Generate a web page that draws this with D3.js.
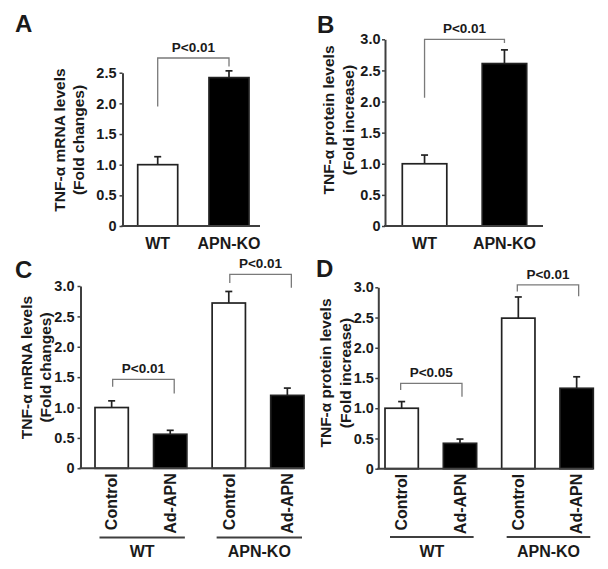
<!DOCTYPE html>
<html>
<head>
<meta charset="utf-8">
<script src="https://cdn.jsdelivr.net/npm/d3@7"></script>
<style>
  html, body { margin: 0; padding: 0; background: #fff; }
  svg { display: block; }
</style>
</head>
<body>
<svg id="chart" width="608" height="569"></svg>
<script>
// ---------------- DATA ----------------
// Panel A: TNF-α mRNA (fold changes)
const aCategories = ["WT", "APN-KO"];
const aValues = [1.0, 2.42];
const aErrors = [0.13, 0.11];
const aTicks = [0, 0.5, 1.0, 1.5, 2.0, 2.5];
const aYLabel = ["TNF-α mRNA levels", "(Fold changes)"];
const aBrackets = [{ from: 0, to: 1, label: "P<0.01", top: 2.74, leftEnd: 1.95, rightEnd: 2.6 }];

// Panel B: TNF-α protein (fold increase)
const bCategories = ["WT", "APN-KO"];
const bValues = [1.0, 2.61];
const bErrors = [0.14, 0.22];
const bTicks = [0, 0.5, 1.0, 1.5, 2.0, 2.5, 3.0];
const bYLabel = ["TNF-α protein levels", "(Fold increase)"];
const bBrackets = [{ from: 0, to: 1, label: "P<0.01", top: 3.0, leftEnd: 2.06, rightEnd: 2.94 }];

// Panel C: TNF-α mRNA, Control vs Ad-APN
const cCategories = ["Control", "Ad-APN", "Control", "Ad-APN"];
const cGroups = ["WT", "APN-KO"];
const cValues = [1.0, 0.56, 2.72, 1.2];
const cErrors = [0.11, 0.065, 0.19, 0.12];
const cTicks = [0, 0.5, 1.0, 1.5, 2.0, 2.5, 3.0];
const cYLabel = ["TNF-α mRNA levels", "(Fold changes)"];
const cBrackets = [
  { from: 0, to: 1, label: "P<0.01", top: 1.465, leftEnd: 1.34, rightEnd: 1.23 },
  { from: 2, to: 3, label: "P<0.01", top: 3.19, leftEnd: 3.05, rightEnd: 2.97 }
];

// Panel D: TNF-α protein, Control vs Ad-APN
const dCategories = ["Control", "Ad-APN", "Control", "Ad-APN"];
const dGroups = ["WT", "APN-KO"];
const dValues = [1.0, 0.42, 2.49, 1.33];
const dErrors = [0.11, 0.07, 0.35, 0.19];
const dTicks = [0, 0.5, 1.0, 1.5, 2.0, 2.5, 3.0];
const dYLabel = ["TNF-α protein levels", "(Fold increase)"];
const dBrackets = [
  { from: 0, to: 1, label: "P<0.05", top: 1.41, leftEnd: 1.30, rightEnd: 1.19 },
  { from: 2, to: 3, label: "P<0.01", top: 3.04, leftEnd: 2.93, rightEnd: 2.85 }
];

// barFill: white for control/WT, black for treated/KO
const barFills = ["#fff", "#000", "#fff", "#000"];

// ---------------- LAYOUT ----------------
const FONT = "'Liberation Sans', Arial, Helvetica, sans-serif";
const TXT = "#1a1a1a";
const AXIS = "#3f3f3f";
const BRK = "#7a7a7a";

const svg = d3.select("#chart");

function drawPanel(cfg, d) {
  const g = svg.append("g");
  const n = d.categories.length;
  const y = d3.scaleLinear().domain([0, cfg.yMax]).range([cfg.yBottom, cfg.yTop]);
  const L = cfg.bandEnd - cfg.bandStart;
  const step = (L - cfg.bw) / (n - 1);
  const pi = 1 - cfg.bw / step;
  const x = d3.scaleBand().domain(d3.range(n)).range([cfg.bandStart, cfg.bandEnd])
    .paddingInner(pi).paddingOuter(0);
  const cx = i => x(i) + x.bandwidth() / 2;

  // panel letter
  g.append("text").attr("x", cfg.letterX).attr("y", cfg.letterY)
    .attr("font-family", FONT).attr("font-weight", "bold").attr("font-size", 24)
    .attr("fill", TXT).text(cfg.letter);

  // bars
  g.selectAll("rect.bar").data(d.values).join("rect")
    .attr("class", "bar")
    .attr("x", (v, i) => x(i)).attr("width", x.bandwidth())
    .attr("y", v => y(v)).attr("height", v => y(0) - y(v))
    .attr("fill", (v, i) => barFills[i % barFills.length])
    .attr("stroke", "#222").attr("stroke-width", 1.7);

  // error bars (upper only)
  d.values.forEach((v, i) => {
    const top = y(v + d.errors[i]);
    g.append("line").attr("x1", cx(i)).attr("x2", cx(i))
      .attr("y1", y(v)).attr("y2", top).attr("stroke", "#222").attr("stroke-width", 1.7);
    g.append("line").attr("x1", cx(i) - 3.5).attr("x2", cx(i) + 3.5)
      .attr("y1", top).attr("y2", top).attr("stroke", "#222").attr("stroke-width", 1.7);
  });

  // y axis
  const yAxis = d3.axisLeft(y).tickValues(d.ticks).tickSizeInner(3).tickSizeOuter(0).tickPadding(cfg.tickPad)
    .tickFormat(t => t === 0 ? "0" : d3.format(".1f")(t));
  const ya = g.append("g").attr("transform", `translate(${cfg.axisX},0)`).call(yAxis);
  ya.select(".domain").attr("stroke", AXIS).attr("stroke-width", 2);
  ya.selectAll(".tick line").attr("stroke", AXIS).attr("stroke-width", 1.5);
  ya.selectAll(".tick text").attr("font-family", FONT).attr("font-weight", "bold")
    .attr("font-size", 14.5).attr("fill", TXT);

  // x axis baseline
  g.append("line").attr("x1", cfg.axisX - 1).attr("x2", cfg.axisRight)
    .attr("y1", y(0)).attr("y2", y(0)).attr("stroke", AXIS).attr("stroke-width", 2);

  // y label (two rotated lines)
  d.yLabel.forEach((t, k) => {
    g.append("text")
      .attr("transform", `translate(${cfg.ylabX[k]},${cfg.ylabY}) rotate(-90)`)
      .attr("text-anchor", "middle").attr("dy", "0.35em")
      .attr("font-family", FONT).attr("font-weight", "bold").attr("font-size", 15.5)
      .attr("fill", TXT).text(t);
  });

  // category labels
  if (!cfg.rotated) {
    g.selectAll("text.cat").data(d.categories).join("text").attr("class", "cat")
      .attr("x", (c, i) => cx(i)).attr("y", cfg.catY)
      .attr("text-anchor", "middle")
      .attr("font-family", FONT).attr("font-weight", "bold").attr("font-size", 16)
      .attr("fill", TXT).text(c => c);
  } else {
    g.selectAll("text.cat").data(d.categories).join("text").attr("class", "cat")
      .attr("transform", (c, i) => `translate(${cx(i)},${y(0) + 5}) rotate(-90)`)
      .attr("text-anchor", "end").attr("dy", "0.36em")
      .attr("font-family", FONT).attr("font-weight", "bold").attr("font-size", 16)
      .attr("fill", TXT).text(c => c);
    // groups
    d.groups.forEach((gr, k) => {
      const i0 = k * 2, i1 = k * 2 + 1;
      const x1 = x(i0) + cfg.groupInset[0];
      const x2 = x(i1) + x.bandwidth() - cfg.groupInset[1];
      g.append("line").attr("x1", x1).attr("x2", x2)
        .attr("y1", cfg.groupLineY).attr("y2", cfg.groupLineY)
        .attr("stroke", AXIS).attr("stroke-width", 1.8);
      g.append("text").attr("x", (x1 + x2) / 2).attr("y", cfg.groupLabelY)
        .attr("text-anchor", "middle")
        .attr("font-family", FONT).attr("font-weight", "bold").attr("font-size", 16)
        .attr("fill", TXT).text(gr);
    });
  }

  // significance brackets
  d.brackets.forEach(b => {
    const xl = cx(b.from) + (cfg.brkShift || 0), xr = cx(b.to) + (cfg.brkShift || 0) + (cfg.brkRight || 0);
    const yt = y(b.top);
    g.append("path")
      .attr("d", `M${xl},${y(b.leftEnd)}V${yt}H${xr}V${y(b.rightEnd)}`)
      .attr("fill", "none").attr("stroke", BRK).attr("stroke-width", 1.3);
    g.append("text").attr("x", (xl + xr) / 2).attr("y", yt - 6)
      .attr("text-anchor", "middle")
      .attr("font-family", FONT).attr("font-weight", "bold").attr("font-size", 13.5)
      .attr("fill", TXT).text(b.label);
  });
}

drawPanel(
  { letter: "A", letterX: 15, letterY: 32, axisX: 122.5, yBottom: 226, yTop: 72.7, yMax: 2.5,
    bandStart: 137.7, bandEnd: 249, bw: 40, axisRight: 260, tickPad: 3,
    ylabX: [60, 79], ylabY: 140, rotated: false, catY: 249 },
  { categories: aCategories, values: aValues, errors: aErrors, ticks: aTicks, yLabel: aYLabel, brackets: aBrackets }
);

drawPanel(
  { letter: "B", letterX: 317, letterY: 33, axisX: 385, yBottom: 226, yTop: 39.3, yMax: 3.0,
    bandStart: 402.3, bandEnd: 526.7, bw: 44.5, axisRight: 543, tickPad: 1.5,
    ylabX: [329, 348.5], ylabY: 120, rotated: false, catY: 249 },
  { categories: bCategories, values: bValues, errors: bErrors, ticks: bTicks, yLabel: bYLabel, brackets: bBrackets }
);

drawPanel(
  { letter: "C", letterX: 15, letterY: 277.5, axisX: 80.5, yBottom: 468.3, yTop: 286, yMax: 3.0,
    bandStart: 95, bandEnd: 304, bw: 33.3, axisRight: 304, tickPad: 3,
    ylabX: [27, 46], ylabY: 367.5, rotated: true, groupInset: [4.5, 2],
    groupLineY: 537.5, groupLabelY: 557, brkShift: 1, brkRight: 3 },
  { categories: cCategories, groups: cGroups, values: cValues, errors: cErrors, ticks: cTicks, yLabel: cYLabel, brackets: cBrackets }
);

drawPanel(
  { letter: "D", letterX: 316, letterY: 276.5, axisX: 378.3, yBottom: 468.7, yTop: 287.3, yMax: 3.0,
    bandStart: 385, bandEnd: 593.3, bw: 33.3, axisRight: 593.3, tickPad: 1.5,
    ylabX: [326, 345.5], ylabY: 373, rotated: true, groupInset: [5, 3],
    groupLineY: 537, groupLabelY: 557, brkShift: -1, brkRight: 3 },
  { categories: dCategories, groups: dGroups, values: dValues, errors: dErrors, ticks: dTicks, yLabel: dYLabel, brackets: dBrackets }
);
</script>
</body>
</html>
